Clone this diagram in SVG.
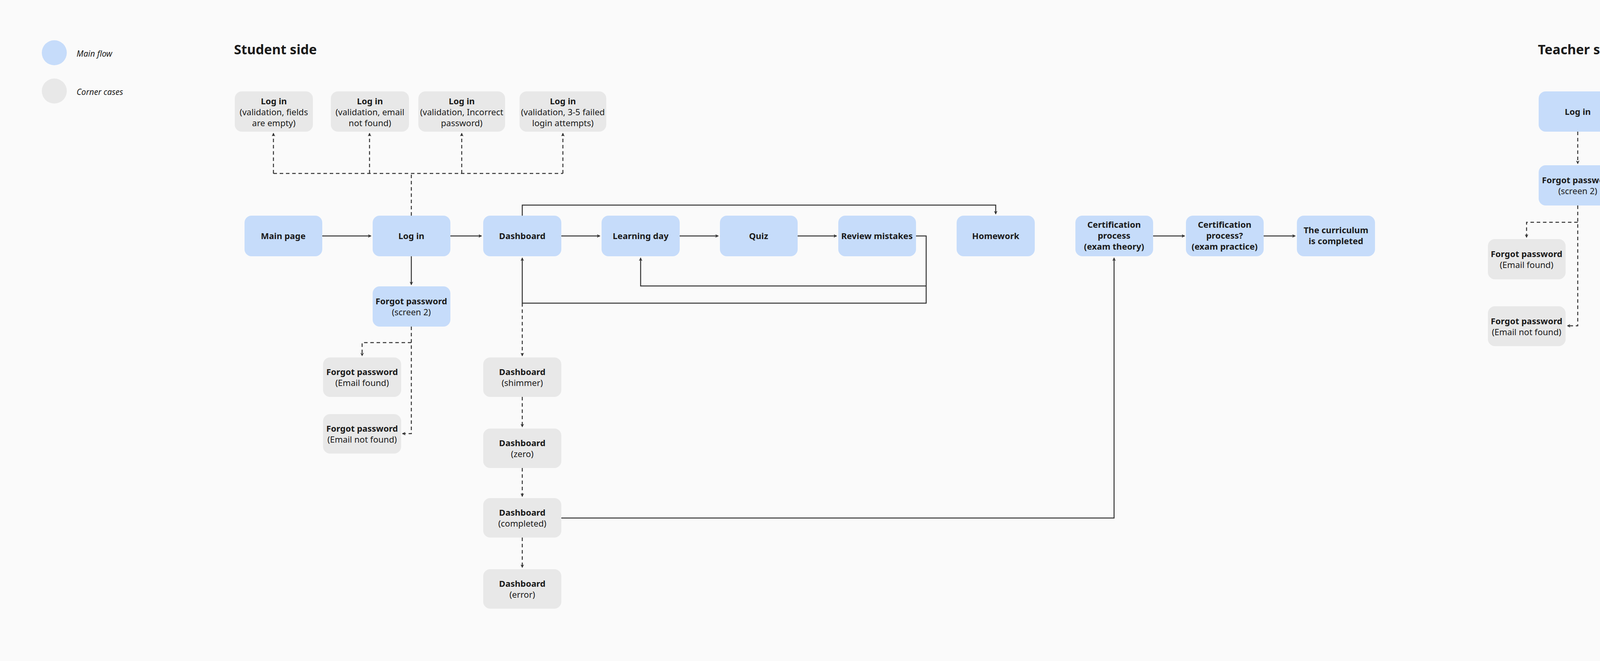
<svg xmlns="http://www.w3.org/2000/svg" width="5276" height="1692" viewBox="0 0 5276 1692">
<defs>
<marker id="ah" viewBox="0 0 10 10" refX="9" refY="5" markerWidth="9" markerHeight="9" markerUnits="userSpaceOnUse" orient="auto"><path d="M0,0 L10,5 L0,10 L3,5 z" fill="#333"/></marker>
</defs>
<style>
text{font-family:"Noto Sans","Open Sans",sans-serif;fill:#1a1a1a;text-anchor:middle}
.b{fill:#C6DCFA}.g{fill:#E8E8E8}
.t{font-size:22px;font-weight:bold}.s{font-size:22px}
.c{fill:none;stroke:#333;stroke-width:2.5}
.d{fill:none;stroke:#333;stroke-width:2.5;stroke-dasharray:9 7}
.h{font-size:34px;font-weight:bold;text-anchor:start}
.l{font-size:21px;font-style:italic;text-anchor:start}
</style>
<rect width="5276" height="1692" fill="#FAFAFA"/>
<g id="legend">
<circle cx="139" cy="135" r="32" fill="#C6DCFA"/><text class="l" x="196" y="145">Main flow</text>
<circle cx="139" cy="233" r="32" fill="#E8E8E8"/><text class="l" x="196" y="243">Corner cases</text>
<text class="h" x="599" y="139">Student side</text>
<text class="h" x="3937" y="139">Teacher side</text>
</g>
<g id="connectors">
<path class="c" d="M824,604H950" marker-end="url(#ah)"/>
<path class="c" d="M1152,604H1233" marker-end="url(#ah)"/>
<path class="c" d="M1437,604H1536" marker-end="url(#ah)"/>
<path class="c" d="M1740,604H1839" marker-end="url(#ah)"/>
<path class="c" d="M2042,604H2142" marker-end="url(#ah)"/>
<path class="c" d="M2951,604H3033" marker-end="url(#ah)"/>
<path class="c" d="M3235,604H3316" marker-end="url(#ah)"/>
<path class="c" d="M1053,656V729" marker-end="url(#ah)"/>
<path class="c" d="M1337,552V525H2549V548" marker-end="url(#ah)"/>
<path class="c" d="M2345,604H2371V776H1337V660" marker-end="url(#ah)"/>
<path class="c" d="M2371,732H1640V660" marker-end="url(#ah)"/>
<path class="c" d="M1437,1326H2852V660" marker-end="url(#ah)"/>
<path class="d" d="M1053,552V444"/>
<path class="d" d="M700,444H1441"/>
<path class="d" d="M700,444V341" marker-end="url(#ah)"/>
<path class="d" d="M946,444V341" marker-end="url(#ah)"/>
<path class="d" d="M1182,444V341" marker-end="url(#ah)"/>
<path class="d" d="M1441,444V341" marker-end="url(#ah)"/>
<path class="d" d="M1053,836V1110H1030" marker-end="url(#ah)"/>
<path class="d" d="M1053,877H927V911" marker-end="url(#ah)"/>
<path class="d" d="M1337,776V911" marker-end="url(#ah)"/>
<path class="d" d="M1337,1016V1093" marker-end="url(#ah)"/>
<path class="d" d="M1337,1198V1271" marker-end="url(#ah)"/>
<path class="d" d="M1337,1376V1453" marker-end="url(#ah)"/>
<path class="c" d="M4139,286H4226" marker-end="url(#ah)"/>
<path class="d" d="M4429,286H4516" marker-end="url(#ah)"/>
<path class="d" d="M4475,286V664H4516" marker-end="url(#ah)"/>
<path class="d" d="M4475,475H4516" marker-end="url(#ah)"/>
<path class="d" d="M4720,286H4807" marker-end="url(#ah)"/>
<path class="d" d="M4720,664H4807" marker-end="url(#ah)"/>
<path class="d" d="M4039,337V419" marker-end="url(#ah)"/>
<path class="d" d="M4039,526V834H4012" marker-end="url(#ah)"/>
<path class="d" d="M4039,569H3908V608" marker-end="url(#ah)"/>
<path class="d" d="M4329,337V419" marker-end="url(#ah)"/>
<path class="d" d="M4329,526V608" marker-end="url(#ah)"/>
<path class="d" d="M4329,715V780" marker-end="url(#ah)"/>
</g>
<g id="v1"><rect class="g" x="601" y="234" width="200" height="103" rx="18"/><text class="t" x="701" y="267">Log in</text><text class="s" x="701" y="295">(validation, fields</text><text class="s" x="701" y="323">are empty)</text></g>
<g id="v2"><rect class="g" x="847" y="234" width="200" height="103" rx="18"/><text class="t" x="947" y="267">Log in</text><text class="s" x="947" y="295">(validation, email</text><text class="s" x="947" y="323">not found)</text></g>
<g id="v3"><rect class="g" x="1071" y="234" width="222" height="103" rx="18"/><text class="t" x="1182" y="267">Log in</text><text class="s" x="1182" y="295">(validation, Incorrect</text><text class="s" x="1182" y="323">password)</text></g>
<g id="v4"><rect class="g" x="1330" y="234" width="222" height="103" rx="18"/><text class="t" x="1441" y="267">Log in</text><text class="s" x="1441" y="295">(validation, 3-5 failed</text><text class="s" x="1441" y="323">login attempts)</text></g>
<g id="mainpage"><rect class="b" x="626" y="552" width="199" height="104" rx="18"/><text class="t" x="725" y="612">Main page</text></g>
<g id="login"><rect class="b" x="954" y="552" width="199" height="104" rx="18"/><text class="t" x="1053" y="612">Log in</text></g>
<g id="dashboard"><rect class="b" x="1237" y="552" width="200" height="104" rx="18"/><text class="t" x="1337" y="612">Dashboard</text></g>
<g id="learning"><rect class="b" x="1540" y="552" width="200" height="104" rx="18"/><text class="t" x="1640" y="612">Learning day</text></g>
<g id="quiz"><rect class="b" x="1843" y="552" width="199" height="104" rx="18"/><text class="t" x="1942" y="612">Quiz</text></g>
<g id="review"><rect class="b" x="2146" y="552" width="199" height="104" rx="18"/><text class="t" x="2245" y="612">Review mistakes</text></g>
<g id="homework"><rect class="b" x="2449" y="552" width="200" height="104" rx="18"/><text class="t" x="2549" y="612">Homework</text></g>
<g id="cert1"><rect class="b" x="2753" y="552" width="199" height="104" rx="18"/><text class="t" x="2852" y="583">Certification</text><text class="t" x="2852" y="611">process</text><text class="t" x="2852" y="639">(exam theory)</text></g>
<g id="cert2"><rect class="b" x="3036" y="552" width="199" height="104" rx="18"/><text class="t" x="3135" y="583">Certification</text><text class="t" x="3135" y="611">process?</text><text class="t" x="3135" y="639">(exam practice)</text></g>
<g id="done"><rect class="b" x="3320" y="552" width="200" height="104" rx="18"/><text class="t" x="3420" y="597">The curriculum</text><text class="t" x="3420" y="625">is completed</text></g>
<g id="forgot"><rect class="b" x="954" y="733" width="199" height="103" rx="18"/><text class="t" x="1053" y="779">Forgot password</text><text class="s" x="1053" y="807">(screen 2)</text></g>
<g id="ffound"><rect class="g" x="827" y="915" width="200" height="101" rx="18"/><text class="t" x="927" y="960">Forgot password</text><text class="s" x="927" y="988">(Email found)</text></g>
<g id="fnot"><rect class="g" x="827" y="1060" width="200" height="101" rx="18"/><text class="t" x="927" y="1105">Forgot password</text><text class="s" x="927" y="1133">(Email not found)</text></g>
<g id="dshim"><rect class="g" x="1237" y="915" width="200" height="101" rx="18"/><text class="t" x="1337" y="960">Dashboard</text><text class="s" x="1337" y="988">(shimmer)</text></g>
<g id="dzero"><rect class="g" x="1237" y="1097" width="200" height="101" rx="18"/><text class="t" x="1337" y="1142">Dashboard</text><text class="s" x="1337" y="1170">(zero)</text></g>
<g id="dcomp"><rect class="g" x="1237" y="1275" width="200" height="101" rx="18"/><text class="t" x="1337" y="1320">Dashboard</text><text class="s" x="1337" y="1348">(completed)</text></g>
<g id="derr"><rect class="g" x="1237" y="1457" width="200" height="101" rx="18"/><text class="t" x="1337" y="1502">Dashboard</text><text class="s" x="1337" y="1530">(error)</text></g>
<g id="tlogin"><rect class="b" x="3939" y="234" width="200" height="103" rx="18"/><text class="t" x="4039" y="294">Log in</text></g>
<g id="tdash"><rect class="b" x="4230" y="234" width="199" height="103" rx="18"/><text class="t" x="4329" y="294">Dashboard</text></g>
<g id="tstudents"><rect class="b" x="4520" y="234" width="200" height="103" rx="18"/><text class="t" x="4620" y="294">Students</text></g>
<g id="tprofile"><rect class="b" x="4811" y="234" width="200" height="103" rx="18"/><text class="t" x="4911" y="294">Student profile</text></g>
<g id="tforgot"><rect class="b" x="3939" y="423" width="200" height="103" rx="18"/><text class="t" x="4039" y="469">Forgot password</text><text class="s" x="4039" y="497">(screen 2)</text></g>
<g id="tdzero"><rect class="g" x="4230" y="423" width="199" height="103" rx="18"/><text class="t" x="4329" y="469">Dashboard</text><text class="s" x="4329" y="497">(zero)</text></g>
<g id="tlive"><rect class="b" x="4520" y="423" width="200" height="103" rx="18"/><text class="t" x="4620" y="483">Live-sessions</text></g>
<g id="tffound"><rect class="g" x="3809" y="612" width="199" height="103" rx="18"/><text class="t" x="3908" y="658">Forgot password</text><text class="s" x="3908" y="686">(Email found)</text></g>
<g id="tderr"><rect class="g" x="4230" y="612" width="199" height="103" rx="18"/><text class="t" x="4329" y="658">Dashboard</text><text class="s" x="4329" y="686">(error)</text></g>
<g id="thw"><rect class="b" x="4520" y="612" width="200" height="103" rx="18"/><text class="t" x="4620" y="672">Homework</text></g>
<g id="thwr"><rect class="b" x="4811" y="612" width="200" height="103" rx="18"/><text class="t" x="4911" y="658">Homework</text><text class="t" x="4911" y="686">review workflow</text></g>
<g id="tfnot"><rect class="g" x="3809" y="784" width="199" height="102" rx="18"/><text class="t" x="3908" y="830">Forgot password</text><text class="s" x="3908" y="858">(Email not found)</text></g>
<g id="tdshim"><rect class="g" x="4230" y="784" width="199" height="102" rx="18"/><text class="t" x="4329" y="830">Dashboard</text><text class="s" x="4329" y="858">(shimmers)</text></g>
</svg>
